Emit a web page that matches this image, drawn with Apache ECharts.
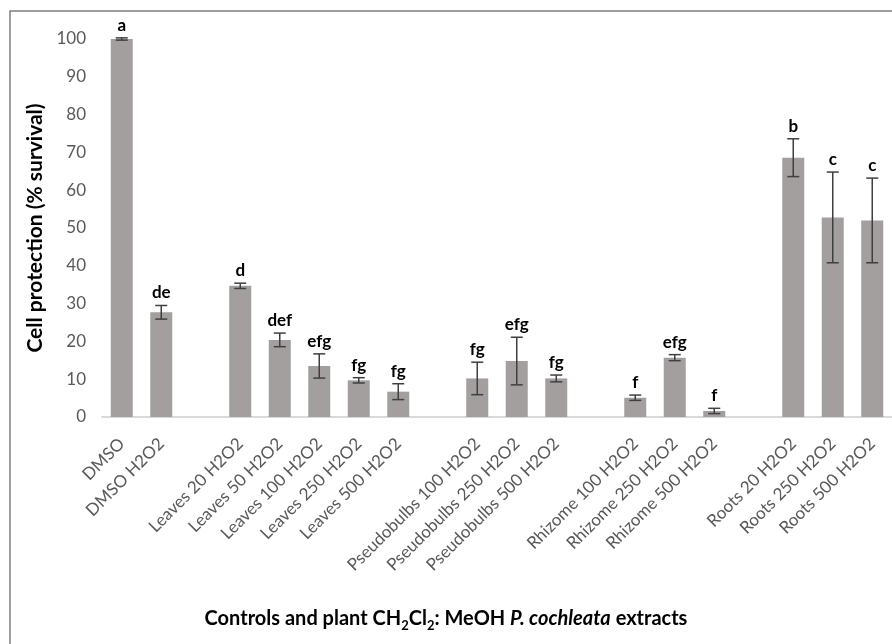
<!DOCTYPE html>
<html>
<head>
<meta charset="utf-8">
<script src="https://cdn.jsdelivr.net/npm/echarts@6/dist/echarts.min.js"></script>
<style>html,body{margin:0;padding:0;background:#fff}#c{width:892px;height:644px}</style>
</head>
<body>
<div id="c"></div>
<script>
// '' entries are the empty gaps between groups
const categories = ['DMSO','DMSO H2O2','','Leaves 20 H2O2','Leaves 50 H2O2','Leaves 100 H2O2','Leaves 250 H2O2','Leaves 500 H2O2','','Pseudobulbs 100 H2O2','Pseudobulbs 250 H2O2','Pseudobulbs 500 H2O2','','Rhizome 100 H2O2','Rhizome 250 H2O2','Rhizome 500 H2O2','','Roots 20 H2O2','Roots 250 H2O2','Roots 500 H2O2'];
const values = [100, 27.7, null, 34.7, 20.4, 13.5, 9.7, 6.7, null, 10.2, 14.8, 10.2, null, 5.1, 15.7, 1.6, null, 68.6, 52.8, 52.0];
const errors = [0.3, 1.8, null, 0.7, 1.8, 3.2, 0.7, 2.1, null, 4.3, 6.3, 0.9, null, 0.7, 0.8, 0.7, null, 5.0, 12.0, 11.2];
const letters = ['a','de','','d','def','efg','fg','fg','','fg','efg','fg','','f','efg','f','','b','c','c'];
const yTicks = [0,10,20,30,40,50,60,70,80,90,100];

const FONT = 'Lato, "Open Sans", sans-serif';
const chart = echarts.init(document.getElementById('c'));

const errData = values.map((v, i) => v == null ? null : [i, v, errors[i], letters[i]]).filter(d => d);

chart.setOption({
  animation: false,
  backgroundColor: '#ffffff',
  grid: { left: 102, top: 39, width: 792, height: 378, containLabel: false },
  xAxis: {
    type: 'category',
    data: categories,
    boundaryGap: true,
    axisLine: { show: true, lineStyle: { color: '#d9d9d9', width: 2 } },
    axisTick: { show: false },
    axisLabel: { interval: 0, rotate: 45, margin: 24, color: '#595959', fontSize: 17, fontFamily: FONT }
  },
  yAxis: {
    type: 'value',
    min: yTicks[0], max: yTicks[yTicks.length - 1], interval: 10,
    name: 'Cell protection (% survival)',
    nameLocation: 'middle',
    nameGap: 50,
    nameTextStyle: { color: '#000', fontSize: 21, fontWeight: 'bold', fontFamily: FONT },
    axisLine: { show: false },
    axisTick: { show: false },
    splitLine: { show: false },
    axisLabel: { margin: 16, color: '#595959', fontSize: 17, fontFamily: FONT }
  },
  series: [
    {
      type: 'bar',
      data: values.map(v => v == null ? '-' : v),
      barWidth: 22,
      itemStyle: { color: '#a39f9f' },
      silent: true
    },
    {
      type: 'custom',
      data: errData,
      encode: { x: 0, y: 1 },
      z: 10,
      renderItem: function (params, api) {
        const i = api.value(0), v = api.value(1), e = api.value(2);
        const lbl = letters[i];
        const top = api.coord([i, v + e]);
        const bot = api.coord([i, v - e]);
        const hw = 6;
        const st = { stroke: '#3f3f3f', lineWidth: 1.5 };
        return {
          type: 'group',
          children: [
            { type: 'line', shape: { x1: top[0], y1: top[1], x2: bot[0], y2: bot[1] }, style: st },
            { type: 'line', shape: { x1: top[0] - hw, y1: top[1], x2: top[0] + hw, y2: top[1] }, style: st },
            { type: 'line', shape: { x1: bot[0] - hw, y1: bot[1], x2: bot[0] + hw, y2: bot[1] }, style: st },
            { type: 'text', x: top[0], y: top[1] - 4,
              style: { text: lbl, fill: '#000', font: 'bold 17px ' + FONT, align: 'center', verticalAlign: 'bottom' } }
          ]
        };
      }
    }
  ],
  graphic: [
    { type: 'rect', shape: { x: 10, y: 11, width: 900, height: 700 }, style: { fill: 'none', stroke: '#7f7f7f', lineWidth: 1.5 }, silent: true },
    {
      type: 'text', left: 'center', top: 609,
      style: {
        text: '{b|Controls and plant CH}{s|2}{b|Cl}{s|2}{b|: MeOH }{i|P. cochleata}{b| extracts}',
        rich: {
          b: { fontSize: 20, fontWeight: 'bold', fontFamily: FONT, fill: '#000', lineHeight: 26 },
          i: { fontSize: 20, fontWeight: 'bold', fontStyle: 'italic', fontFamily: FONT, fill: '#000', lineHeight: 26 },
          s: { fontSize: 13, fontWeight: 'bold', fontFamily: FONT, fill: '#000', lineHeight: 13, verticalAlign: 'bottom' }
        }
      }
    }
  ]
});
</script>
</body>
</html>
